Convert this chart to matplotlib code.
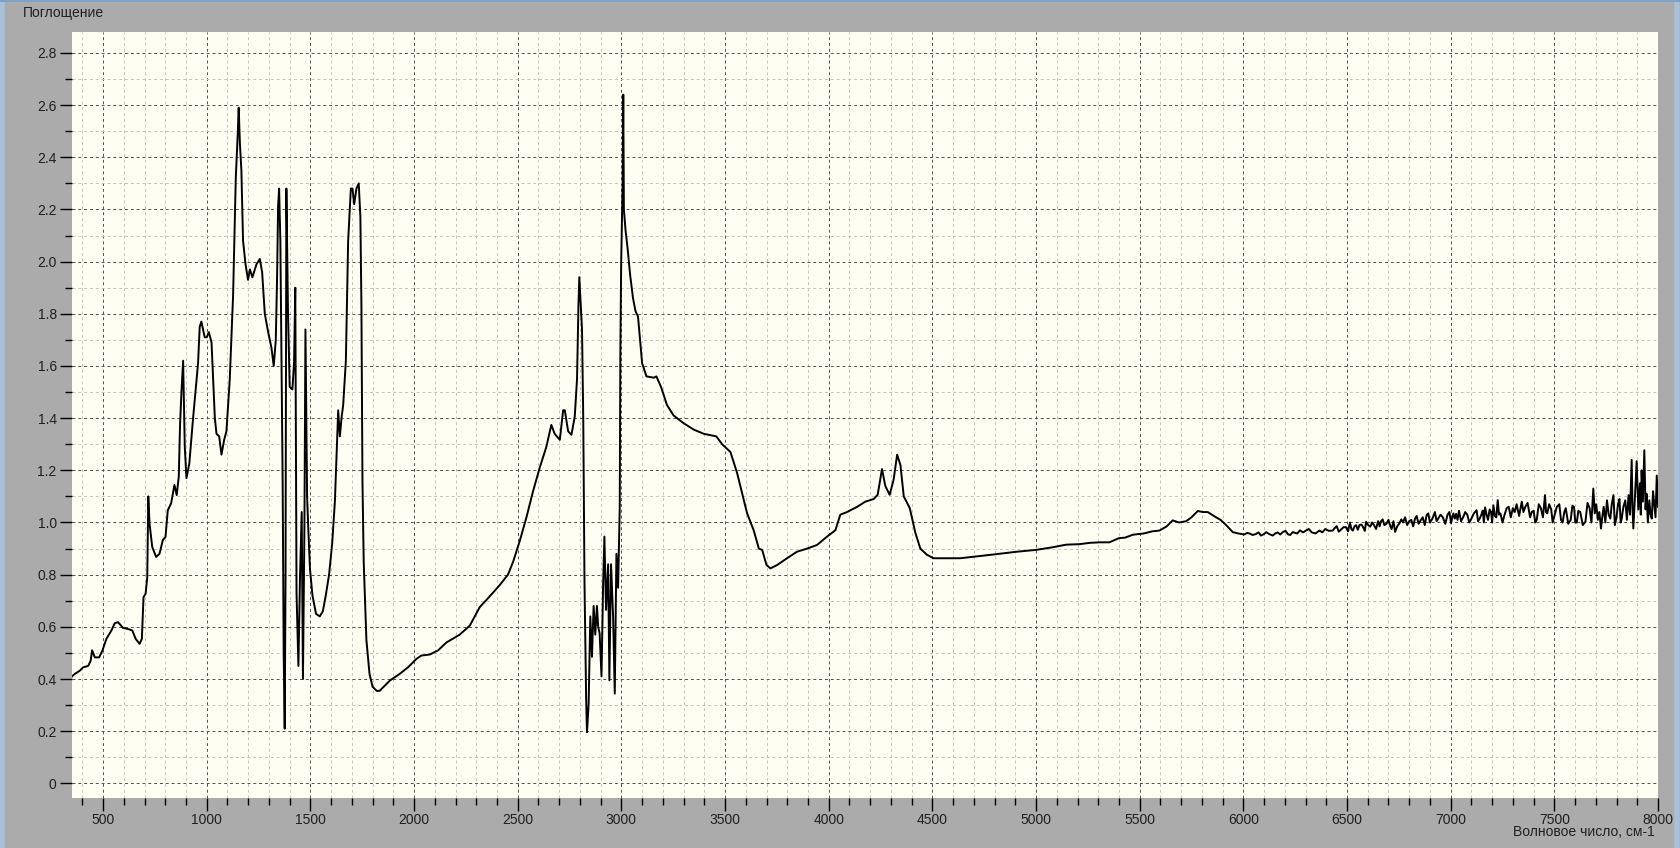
import matplotlib
matplotlib.use("Agg")
import matplotlib.pyplot as plt
from matplotlib.ticker import MultipleLocator, FuncFormatter
from matplotlib.lines import Line2D

# IR absorbance spectrum
wavenumber = [
    350, 364, 388, 404, 428, 440, 447, 460, 481, 497, 516, 540, 556, 572, 596, 620, 641, 657, 676, 687,
    695, 705, 713, 718, 724, 737, 756, 772, 788, 801, 812, 828, 844, 855, 865, 871, 878, 886, 890, 894,
    902, 916, 934, 958, 966, 974, 982, 990, 1000, 1010, 1023, 1039, 1047, 1060, 1071, 1084, 1095, 1111,
    1127, 1140, 1150, 1154, 1160, 1167, 1175, 1187, 1199, 1208, 1220, 1240, 1256, 1267, 1280, 1296, 1312,
    1323, 1333, 1339, 1344, 1349, 1355, 1360, 1366, 1371, 1376, 1380, 1384, 1392, 1400, 1413, 1421, 1427,
    1433, 1442, 1450, 1458, 1464, 1471, 1476, 1484, 1490, 1498, 1510, 1527, 1545, 1560, 1574, 1590, 1605,
    1618, 1628, 1634, 1642, 1650, 1658, 1671, 1682, 1695, 1703, 1711, 1722, 1733, 1741, 1746, 1751, 1757,
    1770, 1785, 1800, 1821, 1834, 1883, 1931, 1971, 2011, 2035, 2076, 2116, 2156, 2220, 2269, 2317, 2365,
    2413, 2453, 2478, 2510, 2542, 2574, 2606, 2638, 2662, 2678, 2703, 2719, 2727, 2743, 2759, 2775, 2786,
    2793, 2797, 2803, 2810, 2816, 2822, 2830, 2834, 2842, 2850, 2858, 2866, 2874, 2882, 2888, 2895, 2904,
    2912, 2918, 2926, 2936, 2942, 2950, 2960, 2968, 2976, 2984, 2992, 2995, 2999, 3003, 3006, 3009, 3012,
    3020, 3030, 3042, 3056, 3068, 3080, 3090, 3100, 3121, 3156, 3169, 3191, 3220, 3252, 3301, 3349, 3397,
    3458, 3486, 3526, 3558, 3606, 3638, 3663, 3679, 3700, 3719, 3751, 3799, 3847, 3896, 3944, 3992, 4032,
    4056, 4088, 4137, 4177, 4217, 4236, 4257, 4273, 4294, 4313, 4330, 4346, 4362, 4391, 4418, 4442, 4474,
    4506, 4635, 4780, 4908, 5000, 5080, 5145, 5210, 5260, 5306, 5354, 5400, 5430, 5466, 5520, 5560, 5595,
    5630, 5659, 5690, 5724, 5750, 5780, 5805, 5828, 5868, 5890, 5917, 5935, 5949, 5975, 6005, 6018, 6030,
    6045, 6061, 6073, 6085, 6098, 6110, 6126, 6142, 6154, 6165, 6178, 6190, 6203, 6215, 6226, 6238, 6250,
    6260, 6273, 6288, 6302, 6316, 6330, 6348, 6367, 6381, 6395, 6412, 6431, 6440, 6450, 6460, 6470, 6483,
    6495, 6505, 6514, 6521, 6528, 6536, 6544, 6552, 6560, 6570, 6579, 6586, 6592, 6602, 6612, 6621, 6630,
    6640, 6650, 6657, 6664, 6672, 6680, 6690, 6700, 6708, 6715, 6724, 6732, 6742, 6753, 6762, 6770, 6780,
    6790, 6800, 6810, 6819, 6828, 6836, 6845, 6855, 6865, 6875, 6884, 6892, 6900, 6912, 6924, 6932, 6940,
    6951, 6962, 6974, 6985, 6994, 7002, 7008, 7013, 7020, 7026, 7033, 7040, 7050, 7060, 7070, 7080, 7090,
    7100, 7112, 7125, 7132, 7140, 7148, 7155, 7160, 7166, 7173, 7180, 7188, 7195, 7200, 7206, 7213, 7220,
    7227, 7233, 7240, 7250, 7260, 7270, 7280, 7290, 7300, 7309, 7318, 7330, 7343, 7351, 7360, 7371, 7383,
    7391, 7400, 7408, 7415, 7425, 7435, 7445, 7455, 7460, 7466, 7475, 7485, 7492, 7500, 7512, 7524, 7532,
    7540, 7548, 7555, 7567, 7579, 7587, 7595, 7601, 7608, 7616, 7625, 7637, 7650, 7660, 7670, 7679, 7688,
    7695, 7702, 7710, 7717, 7725, 7731, 7738, 7746, 7754, 7762, 7770, 7777, 7785, 7792, 7800, 7807, 7814,
    7820, 7825, 7833, 7842, 7850, 7858, 7865, 7873, 7877, 7881, 7889, 7897, 7905, 7913, 7917, 7921, 7927,
    7934, 7940, 7945, 7951, 7958, 7964, 7970, 7976, 7983, 7988, 7994, 8000,
]
absorbance = [
    0.41, 0.42, 0.432, 0.445, 0.45, 0.47, 0.51, 0.483, 0.483, 0.51, 0.554, 0.586, 0.614, 0.618, 0.596, 0.592, 0.586, 0.554, 0.535, 0.554,
    0.714, 0.727, 0.79, 1.10, 0.996, 0.906, 0.868, 0.88, 0.932, 0.945, 1.047, 1.073, 1.144, 1.105, 1.176, 1.37, 1.50, 1.62, 1.45, 1.29,
    1.17, 1.227, 1.40, 1.61, 1.75, 1.77, 1.74, 1.71, 1.71, 1.73, 1.69, 1.40, 1.34, 1.33, 1.26, 1.317, 1.35, 1.55,
    1.87, 2.32, 2.50, 2.59, 2.45, 2.35, 2.08, 1.99, 1.93, 1.97, 1.94, 1.99, 2.01, 1.96, 1.80, 1.73, 1.67,
    1.60, 1.70, 1.93, 2.21, 2.28, 2.08, 1.67, 1.16, 0.50, 0.21, 0.80, 2.28, 1.80, 1.52, 1.51, 1.61, 1.90,
    0.73, 0.45, 0.80, 1.04, 0.40, 0.97, 1.74, 1.10, 0.97, 0.82, 0.72, 0.65, 0.64, 0.66, 0.72, 0.80, 0.92,
    1.08, 1.30, 1.43, 1.33, 1.40, 1.45, 1.62, 2.08, 2.28, 2.28, 2.22, 2.28, 2.30, 2.17, 1.83, 1.16, 0.85,
    0.55, 0.42, 0.37, 0.354, 0.355, 0.394, 0.42, 0.445, 0.477, 0.49, 0.494, 0.51, 0.54, 0.57, 0.605, 0.676, 0.717,
    0.76, 0.80, 0.85, 0.93, 1.02, 1.12, 1.21, 1.29, 1.374, 1.34, 1.317, 1.43, 1.43, 1.35, 1.336, 1.406, 1.55,
    1.84, 1.94, 1.85, 1.74, 1.40, 0.77, 0.32, 0.196, 0.305, 0.64, 0.485, 0.68, 0.57, 0.68, 0.60, 0.575, 0.41,
    0.77, 0.946, 0.665, 0.84, 0.395, 0.84, 0.64, 0.344, 0.88, 0.75, 1.06, 1.66, 2.00, 2.16, 2.30, 2.64, 2.20,
    2.12, 2.05, 1.95, 1.86, 1.81, 1.79, 1.70, 1.61, 1.56, 1.555, 1.56, 1.52, 1.45, 1.41, 1.38, 1.356, 1.34,
    1.33, 1.30, 1.27, 1.19, 1.036, 0.97, 0.90, 0.895, 0.837, 0.824, 0.837, 0.863, 0.888, 0.90, 0.914, 0.946, 0.97,
    1.03, 1.04, 1.06, 1.08, 1.09, 1.106, 1.205, 1.14, 1.106, 1.164, 1.26, 1.22, 1.10, 1.055, 0.96, 0.90, 0.876,
    0.863, 0.863, 0.876, 0.888, 0.895, 0.905, 0.915, 0.917, 0.922, 0.924, 0.924, 0.94, 0.942, 0.953, 0.958, 0.966, 0.969,
    0.985, 1.008, 1.0, 1.005, 1.02, 1.044, 1.04, 1.04, 1.02, 1.01, 0.99, 0.975, 0.963, 0.958, 0.954, 0.96, 0.958,
    0.952, 0.956, 0.962, 0.950, 0.955, 0.963, 0.955, 0.950, 0.958, 0.962, 0.954, 0.963, 0.968, 0.955, 0.952, 0.963, 0.960,
    0.958, 0.97, 0.962, 0.969, 0.975, 0.962, 0.958, 0.969, 0.962, 0.975, 0.968, 0.969, 0.978, 0.986, 0.965, 0.972, 0.982,
    0.982, 0.966, 1.0, 0.975, 0.969, 0.985, 0.99, 0.972, 0.99, 0.992, 0.98, 0.968, 1.003, 0.99, 0.984, 1.0, 0.99,
    0.975, 1.005, 0.985, 1.005, 1.012, 0.99, 0.995, 1.01, 0.988, 0.975, 1.005, 0.964, 0.985, 0.997, 1.012, 1.0, 1.02,
    0.99, 1.005, 1.01, 0.985, 1.015, 1.025, 0.995, 1.008, 1.02, 0.99, 1.028, 1.035, 1.0, 1.015, 1.04, 1.005, 1.015,
    1.03, 1.02, 0.995, 1.03, 1.04, 0.997, 1.02, 1.035, 1.015, 1.033, 1.01, 1.045, 1.005, 1.02, 1.04, 1.03, 1.0,
    1.015, 1.035, 1.047, 1.005, 1.015, 1.03, 1.046, 1.0, 1.058, 1.03, 1.01, 1.05, 1.04, 1.0, 1.066, 1.025, 1.02,
    1.086, 1.03, 1.035, 1.0, 1.03, 1.055, 1.06, 1.02, 1.055, 1.04, 1.07, 1.025, 1.08, 1.04, 1.06, 1.075, 1.02,
    1.04, 1.045, 1.00, 1.01, 1.07, 1.055, 1.02, 1.105, 1.04, 1.035, 1.07, 1.05, 1.0, 1.025, 1.06, 1.07, 1.01,
    1.0, 1.04, 1.055, 0.995, 1.01, 1.065, 1.06, 1.0, 1.0, 1.045, 1.04, 0.99, 1.003, 1.075, 1.055, 1.0, 1.13,
    1.035, 1.07, 1.01, 1.04, 0.977, 1.02, 1.06, 1.0, 1.085, 1.03, 1.015, 1.07, 1.105, 0.99, 1.02, 1.07, 1.09,
    1.0, 1.015, 1.06, 1.085, 1.01, 1.105, 1.03, 1.24, 1.06, 0.977, 1.1, 1.235, 1.05, 1.15, 1.03, 1.20, 1.08,
    1.277, 1.05, 1.11, 1.0, 1.085, 1.03, 1.015, 1.12, 1.06, 1.02, 1.18, 1.06,
]

W, H = 1680, 848
FONT = "Liberation Sans"

fig = plt.figure(figsize=(W / 100, H / 100), dpi=100, facecolor="#ababab")
# plot area in pixel coords: x 72..1658, y 32..798
ax = fig.add_axes([72 / W, 1 - 798 / H, (1658 - 72) / W, (798 - 32) / H])
ax.set_facecolor("#fffef2")

ax.plot(wavenumber, absorbance, color="black", lw=1.4)

ax.set_xlim(350, 8000)
ax.set_ylim(-0.056, 2.88)
ax.xaxis.set_major_locator(MultipleLocator(500))
ax.xaxis.set_minor_locator(MultipleLocator(100))
ax.yaxis.set_major_locator(MultipleLocator(0.2))
ax.yaxis.set_minor_locator(MultipleLocator(0.1))
ax.yaxis.set_major_formatter(FuncFormatter(
    lambda v, p: "0" if abs(v) < 1e-9 else (f"{v:.1f}" if v > 0 else "")))

ax.grid(which="major", ls=(0, (3, 3)), color="#505050", lw=0.7)
ax.grid(which="minor", ls=(0, (3, 3)), color="#c4c4bc", lw=0.7)
ax.set_axisbelow(True)

for s in ax.spines.values():
    s.set_visible(False)
ax.tick_params(which="major", length=9, width=1, color="black", direction="out",
               labelsize=10, pad=2, labelcolor="#202020")
ax.tick_params(which="minor", length=5, width=1, color="black", direction="out")
for lbl in ax.get_xticklabels() + ax.get_yticklabels():
    lbl.set_fontfamily(FONT)

fig.text(23 / W, 1 - 13 / H, "Поглощение", fontsize=10, family=FONT,
         ha="left", va="center", color="#202020")
fig.text(1655 / W, 1 - 832 / H, "Волновое число, см-1", fontsize=10, family=FONT,
         ha="right", va="center", color="#202020")

# window frame
fig.add_artist(Line2D([0.001, 0.001], [0, 1], transform=fig.transFigure, color="#a8c0d8", lw=4))
fig.add_artist(Line2D([0.998, 0.998], [0, 1], transform=fig.transFigure, color="#a8c0d8", lw=4))
fig.add_artist(Line2D([0, 1], [0.999, 0.999], transform=fig.transFigure, color="#7da2c8", lw=1.5))

fig.savefig("out.png", dpi=100, facecolor=fig.get_facecolor())
